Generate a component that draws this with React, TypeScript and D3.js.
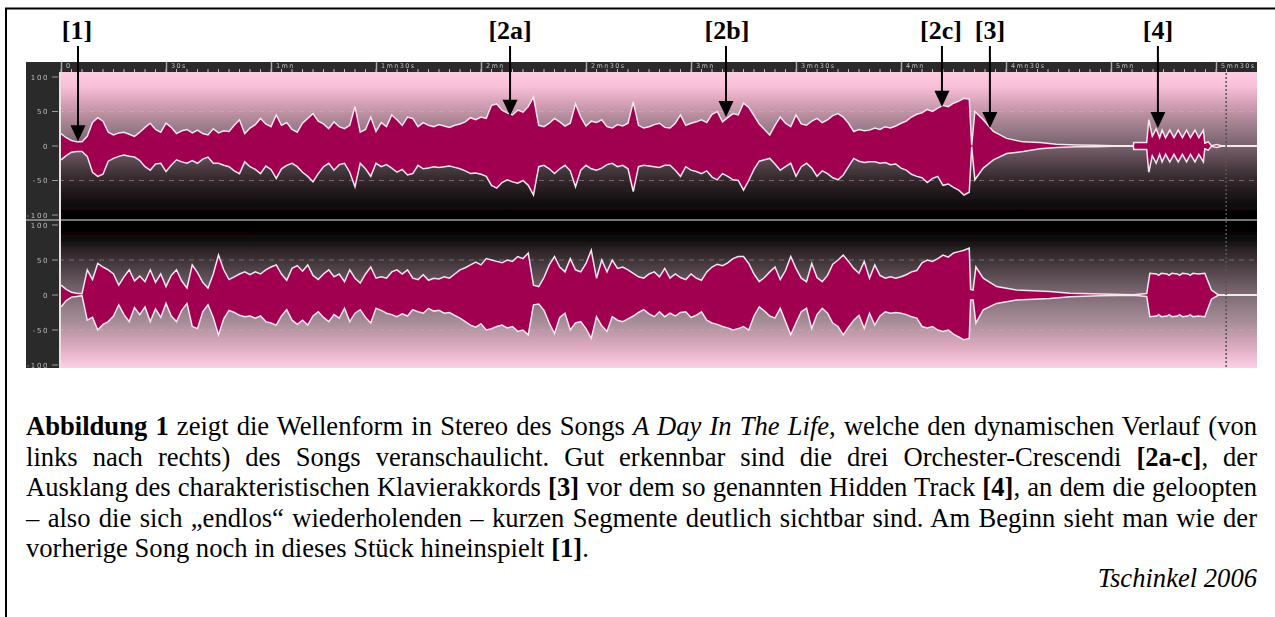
import React, { useLayoutEffect, useRef } from "react";
import * as d3 from "d3";

type P = [number, number];

// Envelope amplitudes (percent) read every 1.5 s from 0 s to 259.5 s
const topUpperBody = [
  18,12,8,6,6,14,34,41,36,20,
  16,19,20,17,14,20,27,33,24,20,
  33,27,18,22,24,19,23,18,16,25,
  19,22,21,30,38,18,26,31,40,32,
  28,45,30,34,24,20,33,40,47,36,
  32,25,35,28,25,30,57,20,24,42,
  21,34,28,45,38,30,42,40,28,34,
  30,28,31,29,27,30,32,35,41,38,
  42,40,59,61,52,48,45,52,49,57,
  71,30,28,33,40,35,29,33,61,42,
  29,36,34,38,28,26,31,29,33,64,
  30,26,28,31,33,27,26,33,45,30,
  33,35,38,34,46,50,35,41,47,45,
  62,56,44,32,24,16,30,42,33,28,
  45,32,30,36,40,34,38,44,47,42,
  33,21,24,22,23,26,24,28,26,29,
  33,36,42,46,48,53,50,55,59,57,
  62,65,69,68,
];
const topLowerBody = [
  20,14,9,8,8,15,38,44,41,22,
  18,15,13,15,16,21,30,35,26,25,
  37,28,20,23,25,21,25,19,16,25,
  25,28,30,36,40,23,30,34,40,29,
  34,47,33,28,25,30,38,44,52,40,
  30,25,35,27,25,38,59,25,33,44,
  25,30,27,32,38,34,42,40,28,33,
  32,30,31,30,29,31,33,36,40,39,
  41,44,57,61,53,49,52,54,50,57,
  71,30,28,33,40,33,28,36,59,35,
  28,33,35,32,27,25,30,28,33,66,
  30,28,29,30,31,28,28,35,44,30,
  35,37,40,36,45,49,40,44,49,50,
  64,50,34,22,20,18,26,35,30,25,
  44,30,25,32,44,36,40,46,49,42,
  30,18,22,24,23,23,25,24,27,26,
  32,35,41,44,46,53,47,44,57,55,
  60,64,71,67,
];
const bottomUpperBody = [
  14,8,4,2.5,2,36,22,45,40,36,
  30,14,26,36,20,27,19,36,18,30,
  12,28,36,20,10,43,32,18,10,30,
  57,36,22,26,30,33,29,33,30,36,
  40,43,30,21,38,42,34,43,28,22,
  30,36,26,30,19,36,24,17,30,40,
  24,26,24,33,36,30,36,24,22,29,
  21,24,23,26,24,30,36,39,43,47,
  43,52,50,48,46,50,48,55,52,60,
  14,12,25,43,55,40,33,52,36,33,
  45,64,24,50,33,50,38,40,36,31,
  26,24,30,33,26,38,24,30,25,22,
  30,24,21,33,40,44,42,46,52,55,
  55,45,30,19,25,33,40,22,35,55,
  38,24,19,45,25,19,28,44,50,57,
  48,38,31,48,24,43,28,24,26,24,
  26,29,33,35,46,50,48,52,57,54,
  60,62,64,67,
];
const bottomLowerBody = [
  17,8,3,2,1,36,32,50,42,38,
  30,14,28,38,18,28,17,38,20,32,
  12,30,38,22,12,45,48,24,14,32,
  57,34,22,25,29,31,30,33,30,38,
  40,43,30,21,36,42,36,43,30,24,
  32,38,28,33,19,38,26,21,32,40,
  19,22,26,28,31,27,30,21,24,26,
  19,23,22,26,25,29,33,38,43,46,
  41,50,48,45,43,47,45,52,50,57,
  14,13,22,40,55,32,26,50,40,38,
  48,62,31,44,52,31,36,38,34,30,
  25,21,27,31,24,31,26,30,25,24,
  32,29,24,36,40,42,45,47,50,48,
  45,50,30,17,23,30,33,19,38,57,
  40,24,19,48,28,19,26,40,45,57,
  46,36,29,48,26,43,30,24,26,25,
  26,28,31,33,45,47,45,50,52,50,
  56,60,64,62,
];
const bodyStep = 1.5;

// Piano decay and hidden track: [seconds, amplitude]
const topUpperTail: P[] = [[260.2,1],[261.1,50],[263.5,38],[266.4,21],[270.2,11],[274.9,6],[279.7,5],[284.4,2.4],[290.2,1.5],[295.4,1],[300.6,.5],[306.4,.5],[306.5,5],[310.2,5],[310.8,38],[311.8,14],[312.9,25],[313.9,12],[314.6,23],[315.6,12],[316.8,23],[318,12],[319.2,23],[320.4,12],[321.6,23],[322.7,12],[324,23],[325.1,12],[326.4,23],[326.8,4],[327.8,6],[328.7,.5],[330.2,2],[331.5,.5],[341.7,.5]];
const topLowerTail: P[] = [[260.2,1],[261.1,49],[263.5,32],[266.4,20],[270.2,11],[274.9,8],[279.7,4],[284.4,2],[290.2,1],[295.4,1],[300.6,.5],[306.4,.5],[306.5,5],[310.2,5],[310.8,38],[311.8,14],[312.9,25],[313.9,12],[314.6,23],[315.6,12],[316.8,23],[318,12],[319.2,23],[320.4,12],[321.6,23],[322.7,12],[324,23],[325.1,12],[326.4,23],[326.8,4],[327.8,6],[328.7,.5],[330.2,2],[331.5,.5],[341.7,.5]];
const bottomUpperTail: P[] = [[259.9,8],[260.6,7],[261.4,40],[263.5,24],[267.3,12],[273,7],[282.5,5],[288.3,2.4],[296.8,1.4],[306.4,.5],[310.2,2],[311.1,31],[313,30],[313.6,28],[314.4,31],[316,30],[316.6,28],[317.4,31],[319,30],[319.6,28],[320.4,31],[322,30],[322.6,28],[323.4,31],[325,30],[326.8,31],[328.7,7],[330.6,.5],[341.7,.5]];
const bottomLowerTail: P[] = [[259.9,7],[260.6,7],[261.4,40],[263.5,21],[267.3,12],[273,7],[282.5,5],[288.3,2.4],[296.8,1],[306.4,.5],[310.2,2],[311.1,31],[313,30],[313.6,28],[314.4,31],[316,30],[316.6,28],[317.4,31],[319,30],[319.6,28],[320.4,31],[322,30],[322.6,28],[323.4,31],[325,30],[326.8,31],[328.7,6],[330.6,.5],[341.7,.5]];

const ampTicks = [100, 50, 0, -50, -100];
const timeMajor = [0, 30, 60, 90, 120, 150, 180, 210, 240, 270, 300, 330];
const timeLabels = ["0", "30s", "1mn", "1mn30s", "2mn", "2mn30s", "3mn", "3mn30s", "4mn", "4mn30s", "5mn", "5mn30s"];
const timeMinor = d3.range(0, 335, 3);
const cursorTime = 332.9;

const calloutLabels = ["[1]", "[2a]", "[2b]", "[2c]", "[3]", "[4]"];
const calloutTimes = [4.86, 128.3, 190, 251.7, 265.4, 313.4];
const calloutAmps = [7, 44, 42, 57, 26, 26];
const labelNudge = [-1, 0, 1, -1, 0, 0];

type Run = { t: string; b?: boolean; i?: boolean };
const bodyLines: Run[][] = [
  [{ t: "Abbildung 1", b: true }, { t: " zeigt die Wellenform in Stereo des Songs " }, { t: "A Day In The Life", i: true }, { t: ", welche den dynamischen Verlauf (von" }],
  [{ t: "links nach rechts) des Songs veranschaulicht. Gut erkennbar sind die drei Orchester-Crescendi " }, { t: "[2a-c]", b: true }, { t: ", der" }],
  [{ t: "Ausklang des charakteristischen Klavierakkords " }, { t: "[3]", b: true }, { t: " vor dem so genannten Hidden Track " }, { t: "[4]", b: true }, { t: ", an dem die geloopten" }],
  [{ t: "– also die sich „endlos“ wiederholenden – kurzen Segmente deutlich sichtbar sind. Am Beginn sieht man wie der" }],
  [{ t: "vorherige Song noch in dieses Stück hineinspielt " }, { t: "[1]", b: true }, { t: "." }],
];
const credit = "Tschinkel 2006";

const W = 1275, H = 617;
const panel = { l: 26, r: 1257, t: 62, b: 368, plotL: 59, rulerB: 72, sep: 220 };
const x = d3.scaleLinear().domain([0, 330]).range([61, 1216]);
const yTop = d3.scaleLinear().domain([-100, 100]).range([215, 77]);
const yBot = d3.scaleLinear().domain([-100, 100]).range([365, 225]);

const join = (vals: number[], tail: P[]): P[] => [...vals.map((v, i): P => [i * bodyStep, v]), ...tail];

function Wave({ up, lo, y }: { up: P[]; lo: P[]; y: d3.ScaleLinear<number, number> }) {
  const lineUp = d3.line<P>().x((d) => x(d[0])).y((d) => y(d[1]));
  const lineLo = d3.line<P>().x((d) => x(d[0])).y((d) => y(-d[1]));
  const upD = lineUp(up)!;
  const loD = lineLo(lo)!;
  const fill = upD + "L" + lineLo([...lo].reverse())!.slice(1) + "Z";
  return (
    <g>
      <path d={fill} fill="#a00050" />
      <path d={upD} fill="none" stroke="#f4e6ee" strokeWidth={1.5} />
      <path d={loD} fill="none" stroke="#f4e6ee" strokeWidth={1.5} />
    </g>
  );
}

function Body() {
  const refs = useRef<(SVGTextElement | null)[]>([]);
  useLayoutEffect(() => {
    refs.current.forEach((el, i) => {
      if (!el || i === bodyLines.length - 1) return;
      const spaces = ((el.textContent || "").match(/ /g) || []).length;
      const target = panel.r - panel.l;
      el.style.wordSpacing = "0px";
      const len = el.getComputedTextLength();
      el.style.wordSpacing = (target - len) / spaces + "px";
    });
  }, []);
  return (
    <g fontFamily="'Liberation Serif'" fontSize={26.6} fill="#000">
      {bodyLines.map((runs, i) => (
        <text key={i} ref={(el) => { refs.current[i] = el; }} x={panel.l} y={435 + i * 30.6} style={{ whiteSpace: "pre" }}>
          {runs.map((r, j) => (
            <tspan key={j} fontWeight={r.b ? "bold" : "normal"} fontStyle={r.i ? "italic" : "normal"}>{r.t}</tspan>
          ))}
        </text>
      ))}
      <text x={panel.r} y={587} textAnchor="end" fontStyle="italic">{credit}</text>
    </g>
  );
}

export default function App() {
  return (
    <svg width={W} height={H} style={{ position: "absolute", left: 0, top: 0, background: "#fff" }}>
      <defs>
        <linearGradient id="gTop" gradientUnits="userSpaceOnUse" x1="0" x2="0" y1={panel.rulerB} y2={panel.sep}>
          <stop offset="0" stopColor="#fdcbe3" />
          <stop offset="0.1" stopColor="#f8c0d8" />
          <stop offset="0.2" stopColor="#d8a3b9" />
          <stop offset="0.3" stopColor="#b58c9c" />
          <stop offset="0.42" stopColor="#8e7280" />
          <stop offset="0.55" stopColor="#6a555e" />
          <stop offset="0.7" stopColor="#3a2e33" />
          <stop offset="0.82" stopColor="#1f181b" />
          <stop offset="0.97" stopColor="#000" />
          <stop offset="1" stopColor="#000" />
        </linearGradient>
        <linearGradient id="gBot" gradientUnits="userSpaceOnUse" x1="0" x2="0" y1={panel.sep} y2={panel.b}>
          <stop offset="0" stopColor="#000" />
          <stop offset="0.12" stopColor="#0a0808" />
          <stop offset="0.2" stopColor="#2b2226" />
          <stop offset="0.32" stopColor="#4c3f45" />
          <stop offset="0.5" stopColor="#7d6a73" />
          <stop offset="0.7" stopColor="#ab8f9a" />
          <stop offset="0.85" stopColor="#dca9be" />
          <stop offset="1" stopColor="#fdd0e6" />
        </linearGradient>
        <filter id="soft" x="0" y="0" width="100%" height="100%">
          <feGaussianBlur stdDeviation="0.55" />
        </filter>
      </defs>

      <path d={`M${W},8.5H6V${H}`} fill="none" stroke="#000" strokeWidth={2} />

      <g filter="url(#soft)">
        <rect x={panel.l} y={panel.t} width={panel.r - panel.l} height={panel.b - panel.t} fill="#2c2c2c" />
        <rect x={panel.plotL} y={panel.rulerB} width={panel.r - panel.plotL} height={panel.sep - panel.rulerB} fill="url(#gTop)" />
        <rect x={panel.plotL} y={panel.sep} width={panel.r - panel.plotL} height={panel.b - panel.sep} fill="url(#gBot)" />

        {[yTop, yBot].map((y, k) => (
          <g key={k}>
            {[50, -50].map((v) => (
              <line key={v} x1={panel.plotL} x2={panel.r} y1={y(v)} y2={y(v)} stroke="#d8c0c8" strokeOpacity={0.4} strokeDasharray="5 5" />
            ))}
            {ampTicks.map((v) => (
              <g key={v}>
                <line x1={52} x2={58} y1={y(v)} y2={y(v)} stroke="#9a9a9a" />
                <text x={49} y={y(v) + 2.5} textAnchor="end" fontFamily="'DejaVu Sans'" fontSize={7} letterSpacing={1.6} fill="#bdbdbd">{v}</text>
              </g>
            ))}
          </g>
        ))}

        <Wave up={join(topUpperBody, topUpperTail)} lo={join(topLowerBody, topLowerTail)} y={yTop} />
        <Wave up={join(bottomUpperBody, bottomUpperTail)} lo={join(bottomLowerBody, bottomLowerTail)} y={yBot} />

        <line x1={panel.l} x2={panel.r} y1={panel.sep} y2={panel.sep} stroke="#9c9c9c" strokeWidth={1.5} />
        <line x1={60} x2={60} y1={panel.rulerB} y2={panel.b} stroke="#e8e0e4" strokeWidth={2} />
        <line x1={x(cursorTime)} x2={x(cursorTime)} y1={panel.rulerB + 1} y2={panel.b} stroke="#555" strokeWidth={1.5} strokeDasharray="2 2" />

        {timeMinor.map((t) => (
          <line key={t} x1={x(t)} x2={x(t)} y1={69} y2={72} stroke="#bbb" />
        ))}
        {timeMajor.map((t, i) => (
          <g key={t}>
            <line x1={x(t) + 0.5} x2={x(t) + 0.5} y1={panel.t} y2={72} stroke="#aaa" strokeWidth={1.4} />
            <text x={x(t) + 5} y={68} fontFamily="'DejaVu Sans'" fontSize={6.5} letterSpacing={1.4} fill="#bdbdbd">{timeLabels[i]}</text>
          </g>
        ))}
      </g>

      {calloutLabels.map((label, i) => {
        const cx = x(calloutTimes[i]);
        const tip = yTop(calloutAmps[i]);
        return (
          <g key={label}>
            <line x1={cx} x2={cx} y1={46} y2={tip - 14} stroke="#000" strokeWidth={2} />
            <path d={`M${cx - 7.5},${tip - 16}H${cx + 7.5}L${cx},${tip}Z`} fill="#000" />
            <text x={cx + labelNudge[i]} y={39} textAnchor="middle" fontFamily="'Liberation Serif'" fontWeight="bold" fontSize={26} fill="#000">{label}</text>
          </g>
        );
      })}

      <Body />
    </svg>
  );
}
